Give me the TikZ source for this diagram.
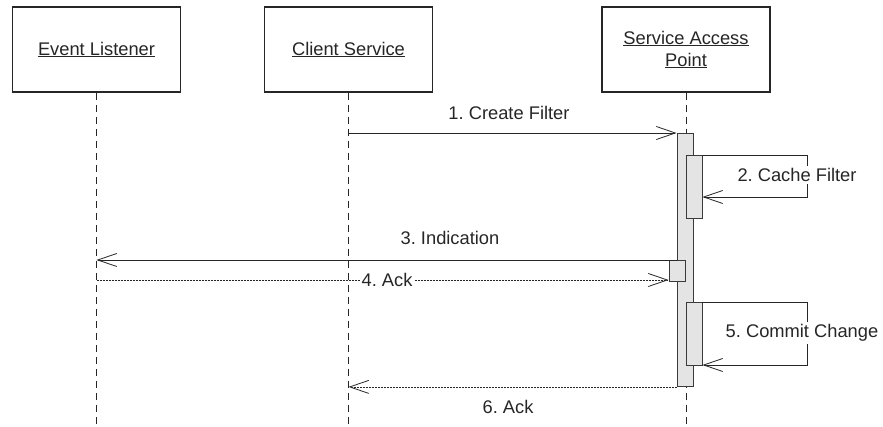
\documentclass[tikz,border=0pt]{standalone}
\usepackage{fontspec}
\setmainfont{Liberation Sans}
\usetikzlibrary{arrows.meta}
\definecolor{ink}{HTML}{262626}
\definecolor{barfill}{HTML}{E4E4E4}
\definecolor{barline}{HTML}{3A3A3A}
\frenchspacing
\tikzset{
  every node/.style={font=\fontsize{18.3}{21}\selectfont, text=ink},
  actor/.style={draw=ink, line width=1.2pt, fill=white, minimum width=168pt,
                minimum height=85pt, align=center, inner sep=0pt},
  lifeline/.style={draw=ink, line width=0.8pt, dash pattern=on 7pt off 5pt},
  actbar/.style={draw=barline, fill=barfill, line width=0.9pt, minimum width=16pt,
                 inner sep=0pt, anchor=north},
  msg/.style={draw=ink, line width=0.8pt, -{Straight Barb[length=19pt,width=13pt,line width=0.8pt]}},
  reply/.style={msg, dash pattern=on 2pt off 1pt},
  lbl/.style={inner sep=1pt},
  lblw/.style={fill=white, inner sep=2pt}
}
\begin{document}
\begin{tikzpicture}[x=1pt,y=-1pt]
\useasboundingbox (0,0) rectangle (883,427);

% participants
\node[actor] (el)  at (96.5,49.5)  {\underline{Event Listener}};
\node[actor] (cs)  at (348.5,49.5) {\underline{Client Service}};
\node[actor] (sap) at (686,49.5)   {\underline{Service Access}\\[1pt]\underline{Point}};

% lifelines
\coordinate (elend)  at (96.5,425);
\coordinate (csend)  at (348.5,425);
\coordinate (sapend) at (686,425);
\draw[lifeline] (el.south)  -- (elend);
\draw[lifeline] (cs.south)  -- (csend);
\draw[lifeline] (sap.south) -- (sapend);

% activation bars
\node[actbar, minimum height=253pt] (a0) at (685,133) {};
\node[actbar, minimum height=63pt]  (a1) at (694,155) {};
\node[actbar, minimum height=21pt]  (a2) at (677,260) {};
\node[actbar, minimum height=63pt]  (a3) at (694,302) {};

% 1. Create Filter
\draw[msg] (cs.south |- a0.north) -- (a0.north west);
\node[lbl] (l1) at (509,113) {1. Create Filter};

% 2. Cache Filter (self call)
\coordinate (r1) at (807,197);
\draw[msg] (a1.north east) -| (r1) -- (a1.east |- r1);
\node[lblw] (l2) at (797,175) {2. Cache Filter};

% 3. Indication
\coordinate (m3) at (677,260);
\draw[msg] (m3) -- (el.south |- m3);
\node[lbl] (l3) at (450,238) {3. Indication};

% 4. Ack
\coordinate (m4) at (96.5,280);
\draw[reply] (m4) -- (a2.west |- m4);
\node[lblw] (l4) at (387,280) {4. Ack};

% 5. Commit Change (self call)
\coordinate (r3) at (807,365);
\draw[msg] (a3.north east) -| (r3) -- (a3.east |- r3);
\node[lblw] (l5) at (802,333) {5. Commit Change};

% 6. Ack
\draw[reply] (a0.south west) -- (cs.south |- a0.south);
\node[lbl] (l6) at (508,407) {6. Ack};
\end{tikzpicture}
\end{document}
